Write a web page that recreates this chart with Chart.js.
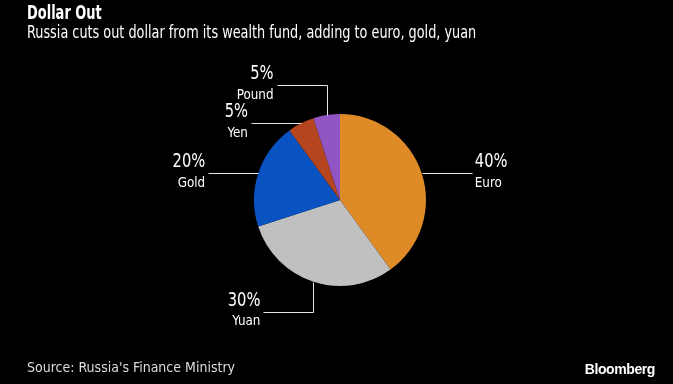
<!DOCTYPE html>
<html>
<head>
<meta charset="utf-8">
<script src="https://cdn.jsdelivr.net/npm/chart.js@4"></script>
<style>
  html, body { margin: 0; padding: 0; background: #000; }
  #wrap { position: relative; width: 673px; height: 384px; overflow: hidden; }
  canvas { position: absolute; left: 0; top: 0; }
  .txt { position: absolute; color: #fff; white-space: nowrap; font-family: 'DejaVu Sans Condensed', sans-serif; transform-origin: 0 0; }
  #title { left: 27px; top: 1px; font-size: 19px; font-weight: bold; transform: scaleX(0.76); }
  #subtitle { left: 27px; top: 22px; font-size: 17px; transform: scaleX(0.84); }
  #source { left: 27px; top: 359px; font-size: 14px; color: #ddd; }
  #brand { right: 18px; top: 361px; font-size: 14px; font-weight: bold; font-family: 'Liberation Sans', sans-serif; letter-spacing: -0.4px; }
</style>
</head>
<body>
<div id="wrap">
  <canvas id="pieChart" width="673" height="384"></canvas>
  <div class="txt" id="title">Dollar Out</div>
  <div class="txt" id="subtitle">Russia cuts out dollar from its wealth fund, adding to euro, gold, yuan</div>
  <div class="txt" id="source">Source: Russia's Finance Ministry</div>
  <div class="txt" id="brand">Bloomberg</div>
</div>
<script>
// данные
const categories = ['Euro', 'Yuan', 'Gold', 'Yen', 'Pound'];
const shares = [40, 30, 20, 5, 5];
const colors = ['#DD8A27', '#C0C0C0', '#0852C2', '#B4451F', '#9155C1'];
// тип выноски для каждой подписи
const leaders = ['right', 'downLeft', 'left', 'left', 'upLeft'];

const FONT = "'DejaVu Sans Condensed', sans-serif";

// текст, сжатый по горизонтали
function narrowText(c, text, x, y, align, sx) {
    c.save();
    c.translate(x, y);
    c.scale(sx, 1);
    c.textAlign = align;
    c.textBaseline = 'middle';
    c.fillText(text, 0, 0);
    c.restore();
}

const calloutPlugin = {
    id: 'callouts',
    afterDatasetsDraw(chart) {
        const c = chart.ctx;
        const arcs = chart.getDatasetMeta(0).data;
        c.save();
        c.strokeStyle = '#e6e6e6';
        c.lineWidth = 1;
        c.fillStyle = '#fff';
        arcs.forEach((arc, i) => {
            const mid = (arc.startAngle + arc.endAngle) / 2;
            const px = arc.x + Math.cos(mid) * arc.outerRadius;
            const py = arc.y + Math.sin(mid) * arc.outerRadius;
            const len = 50, drop = 30;
            let ex, ey, align;
            c.beginPath();
            c.moveTo(Math.round(px) + 0.5, Math.round(py) + 0.5);
            if (leaders[i] === 'right') {
                ex = px + len; ey = py; align = 'left';
                c.lineTo(Math.round(ex) + 0.5, Math.round(ey) + 0.5);
            } else if (leaders[i] === 'left') {
                ex = px - len; ey = py; align = 'right';
                c.lineTo(Math.round(ex) + 0.5, Math.round(ey) + 0.5);
            } else if (leaders[i] === 'downLeft') {
                ey = py + drop; ex = px - len; align = 'right';
                c.lineTo(Math.round(px) + 0.5, Math.round(ey) + 0.5);
                c.lineTo(Math.round(ex) + 0.5, Math.round(ey) + 0.5);
            } else {
                ey = py - drop; ex = px - len; align = 'right';
                c.lineTo(Math.round(px) + 0.5, Math.round(ey) + 0.5);
                c.lineTo(Math.round(ex) + 0.5, Math.round(ey) + 0.5);
            }
            c.stroke();
            const tx = align === 'left' ? ex + 3 : ex - 3;
            c.font = '19px ' + FONT;
            narrowText(c, shares[i] + '%', tx, ey - 11, align, 0.86);
            c.font = '14px ' + FONT;
            narrowText(c, categories[i], tx, ey + 10, align, 0.95);
        });
        c.restore();
    }
};

new Chart(document.getElementById('pieChart').getContext('2d'), {
    type: 'pie',
    data: {
        labels: categories,
        datasets: [{
            data: shares,
            backgroundColor: colors,
            borderWidth: 0
        }]
    },
    options: {
        responsive: false,
        animation: false,
        layout: { padding: { left: 254, right: 247, top: 114, bottom: 98 } },
        plugins: {
            legend: { display: false },
            tooltip: { enabled: false }
        }
    },
    plugins: [calloutPlugin]
});
</script>
</body>
</html>
